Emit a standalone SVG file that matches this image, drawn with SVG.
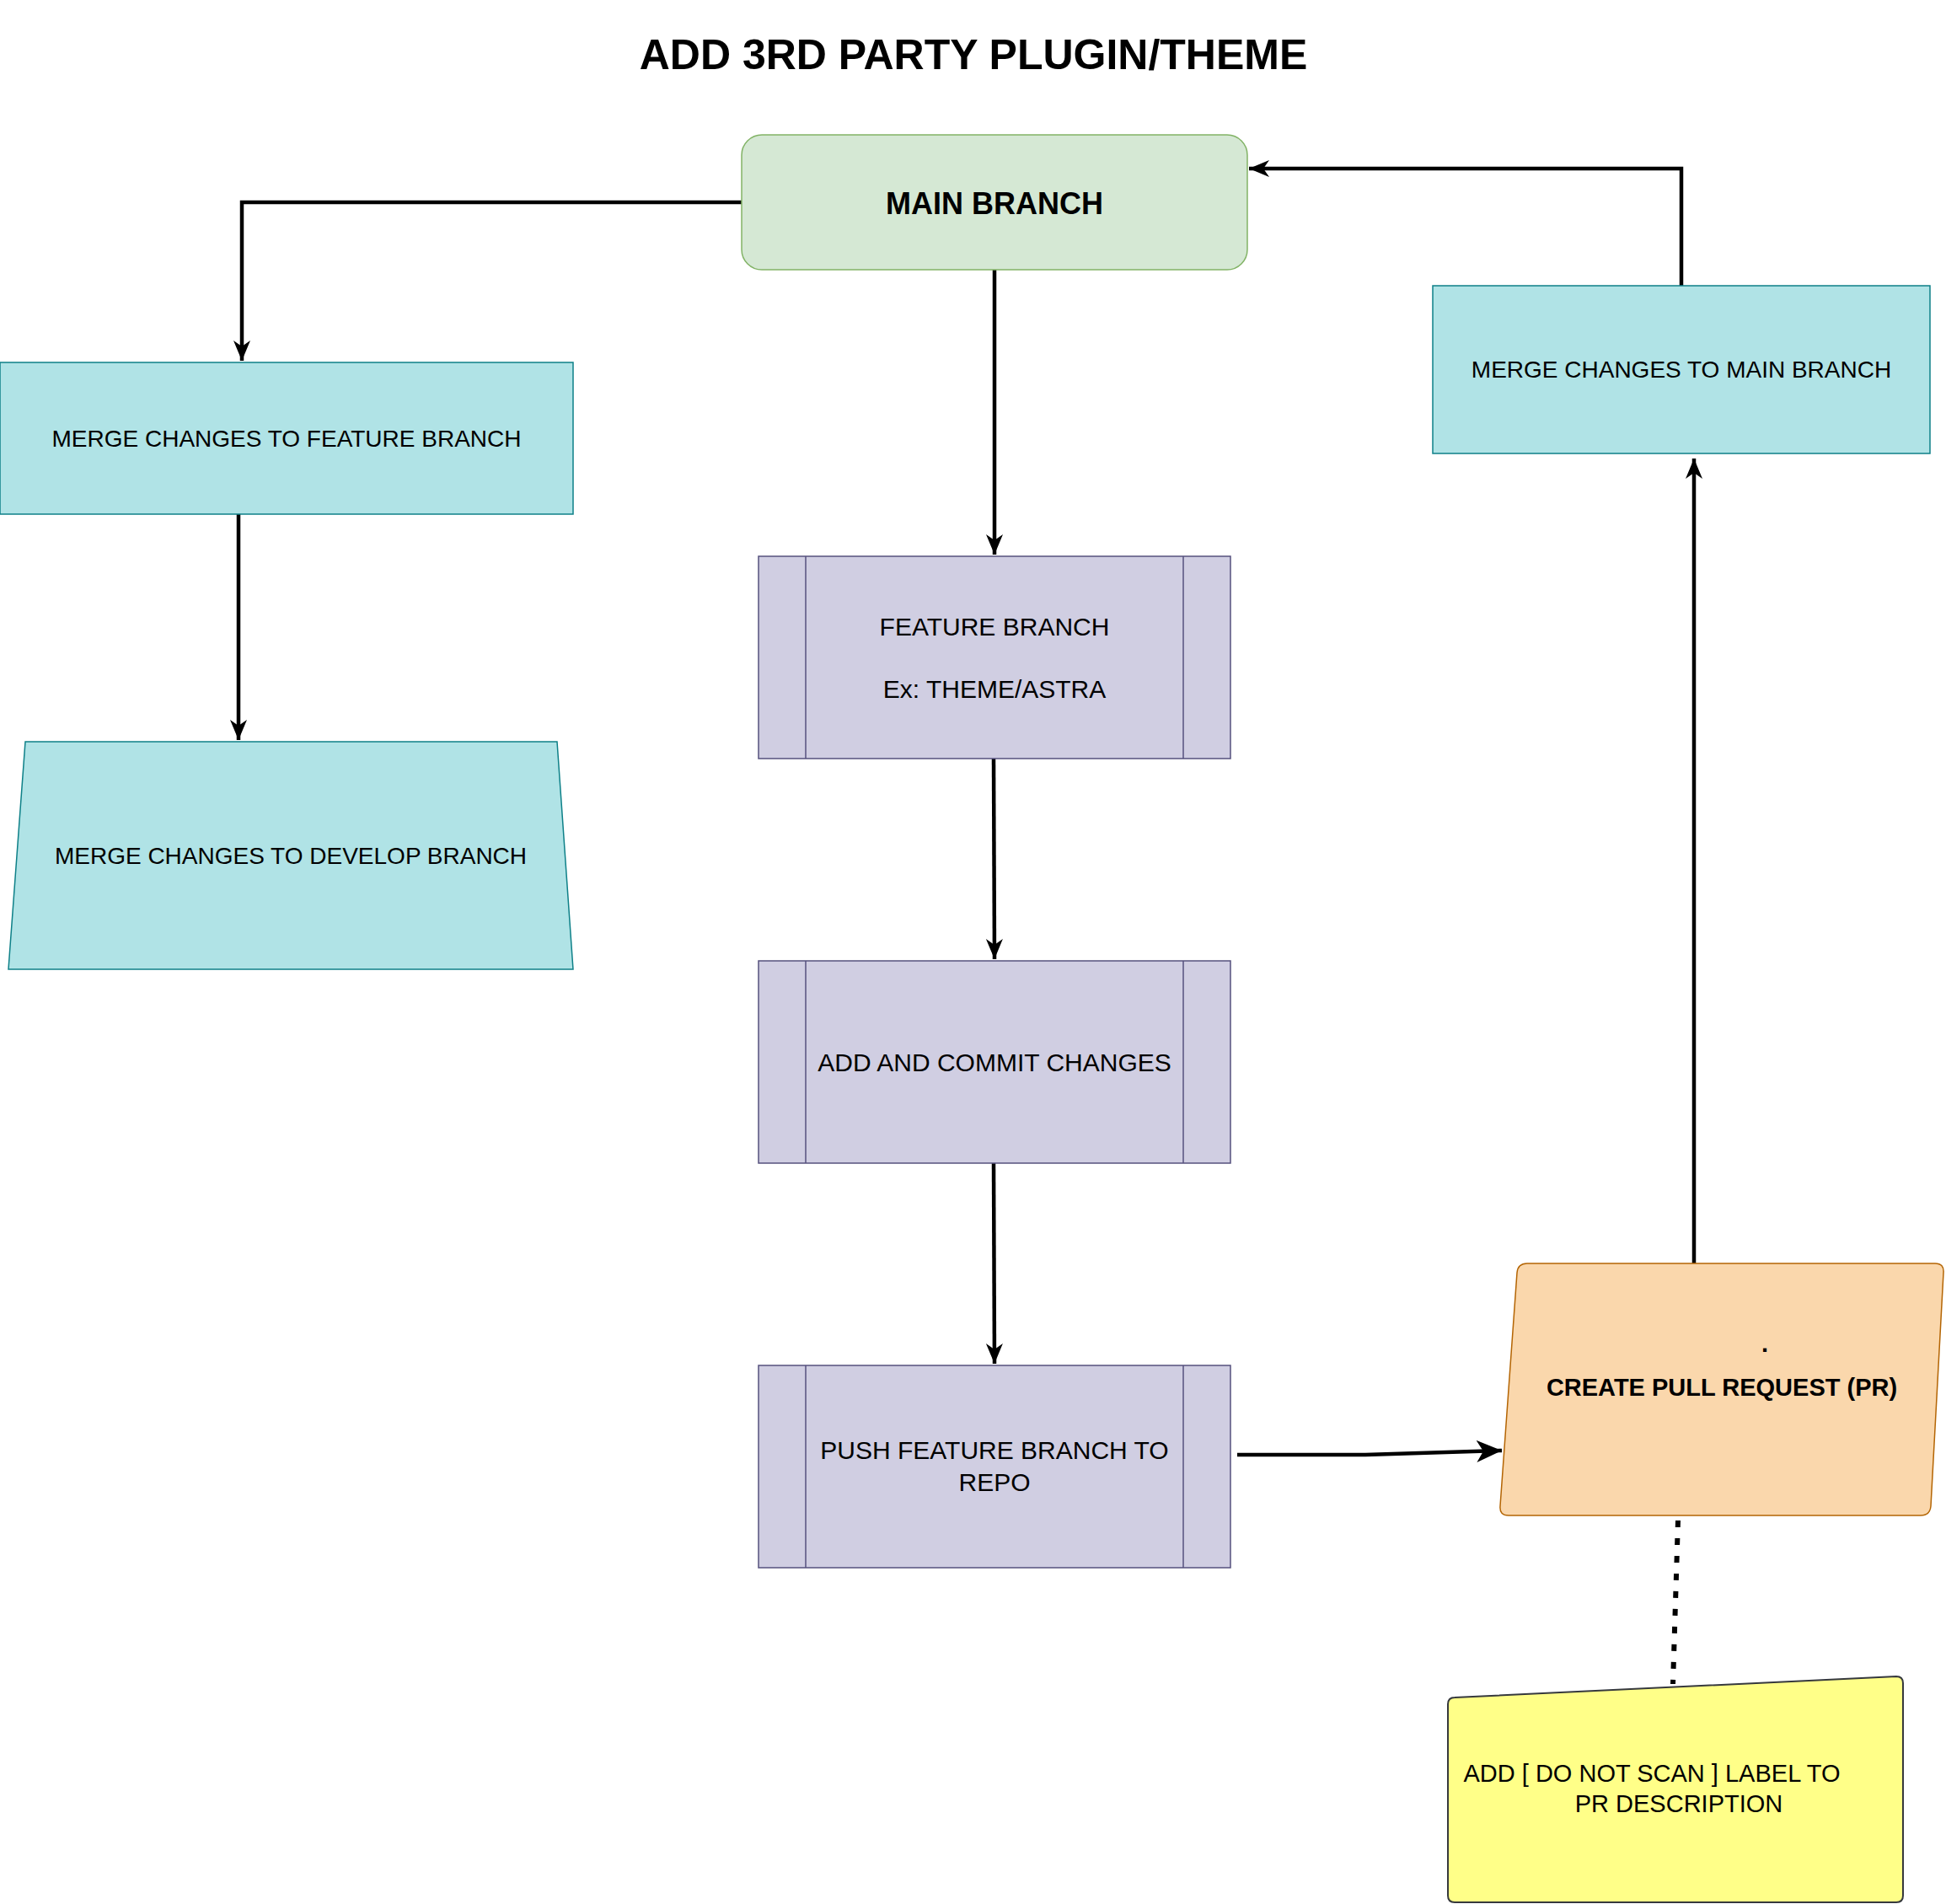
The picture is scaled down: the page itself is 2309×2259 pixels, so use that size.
<svg xmlns="http://www.w3.org/2000/svg" width="2309" height="2259" viewBox="0 0 2309 2259">
<style>
text{font-family:"Liberation Sans",Arial,Helvetica,sans-serif;fill:#000;text-anchor:middle;dominant-baseline:central}
.b{font-weight:bold}
.teal{fill:#b0e3e6;stroke:#0e8088;stroke-width:1.5}
.proc{fill:#d0cee2;stroke:#56517e;stroke-width:1.5}
.edge{fill:none;stroke:#000;stroke-width:4.5}
</style>
<defs>
<marker id="arr" markerUnits="userSpaceOnUse" markerWidth="26" markerHeight="26" viewBox="0 0 26 26" refX="24" refY="13" orient="auto">
<path d="M0,3 L24,13 L0,23 L7,13 z" fill="#000"/>
</marker>
<marker id="arrBig" markerUnits="userSpaceOnUse" markerWidth="32" markerHeight="32" viewBox="0 0 32 32" refX="30" refY="16" orient="auto">
<path d="M0,3 L30,16 L0,29 L8,16 z" fill="#000"/>
</marker>
</defs>
<rect width="2309" height="2259" fill="#fff"/>
<text id="title" class="b" x="1155" y="65" font-size="50">ADD 3RD PARTY PLUGIN/THEME</text>

<g id="connectors">
<path class="edge" d="M880,240 L287,240 L287,428" marker-end="url(#arr)"/>
<path class="edge" d="M1180,320 L1180,658" marker-end="url(#arr)"/>
<path class="edge" d="M1179,900 L1180,1138" marker-end="url(#arr)"/>
<path class="edge" d="M1179,1380 L1180,1618" marker-end="url(#arr)"/>
<path class="edge" d="M283,610 L283,878" marker-end="url(#arr)"/>
<path class="edge" d="M1468,1726 L1620,1726 L1782,1721" stroke-width="6" marker-end="url(#arrBig)"/>
<path class="edge" d="M2010,1499 L2010,544" marker-end="url(#arr)"/>
<path class="edge" d="M1995,339 L1995,200 L1482,200" marker-end="url(#arr)"/>
<path d="M1991,1804 L1985,1998" fill="none" stroke="#000" stroke-width="6" stroke-dasharray="8 13"/>
</g>

<g id="main-branch">
<rect x="880" y="160" width="600" height="160" rx="24" ry="24" fill="#d5e8d4" stroke="#82b366" stroke-width="1.5"/>
<text class="b" x="1180" y="241" font-size="36">MAIN BRANCH</text>
</g>

<g id="merge-feature">
<rect class="teal" x="0" y="430" width="680" height="180"/>
<text x="340" y="520" font-size="28">MERGE CHANGES TO FEATURE BRANCH</text>
</g>

<g id="merge-develop">
<path class="teal" d="M30,880 L661,880 L680,1150 L10,1150 Z"/>
<text x="345" y="1015" font-size="28">MERGE CHANGES TO DEVELOP BRANCH</text>
</g>

<g id="feature-branch">
<rect class="proc" x="900" y="660" width="560" height="240"/>
<line class="proc" x1="956" y1="660" x2="956" y2="900"/>
<line class="proc" x1="1404" y1="660" x2="1404" y2="900"/>
<text x="1180" y="743" font-size="30">FEATURE BRANCH</text>
<text x="1180" y="817" font-size="30">Ex: THEME/ASTRA</text>
</g>

<g id="add-commit">
<rect class="proc" x="900" y="1140" width="560" height="240"/>
<line class="proc" x1="956" y1="1140" x2="956" y2="1380"/>
<line class="proc" x1="1404" y1="1140" x2="1404" y2="1380"/>
<text x="1180" y="1260" font-size="30">ADD AND COMMIT CHANGES</text>
</g>

<g id="push">
<rect class="proc" x="900" y="1620" width="560" height="240"/>
<line class="proc" x1="956" y1="1620" x2="956" y2="1860"/>
<line class="proc" x1="1404" y1="1620" x2="1404" y2="1860"/>
<text x="1180" y="1720" font-size="30">PUSH FEATURE BRANCH TO</text>
<text x="1180" y="1758" font-size="30">REPO</text>
</g>

<g id="merge-main">
<rect class="teal" x="1700" y="339" width="590" height="199"/>
<text x="1995" y="438" font-size="28">MERGE CHANGES TO MAIN BRANCH</text>
</g>

<g id="create-pr">
<path d="M1812,1499 L2296,1499 Q2307,1499 2306,1510 L2291,1787 Q2290,1798 2279,1798 L1790,1798 Q1779,1798 1780,1787 L1800,1510 Q1801,1499 1812,1499 Z" fill="#fad7ac" stroke="#b46504" stroke-width="1.5"/>
<text class="b" x="2094" y="1594" font-size="29">.</text>
<text class="b" x="2043" y="1646" font-size="29">CREATE PULL REQUEST (PR)</text>
</g>

<g id="note">
<path d="M1726,2014 L2250,1989 Q2258,1989 2258,1997 L2258,2249 Q2258,2257 2250,2257 L1726,2257 Q1718,2257 1718,2249 L1718,2022 Q1718,2014 1726,2014 Z" fill="#ffff88" stroke="#36393d" stroke-width="2"/>
<text x="1960" y="2104" font-size="29">ADD [ DO NOT SCAN ] LABEL TO</text>
<text x="1992" y="2140" font-size="29">PR DESCRIPTION</text>
</g>
</svg>
